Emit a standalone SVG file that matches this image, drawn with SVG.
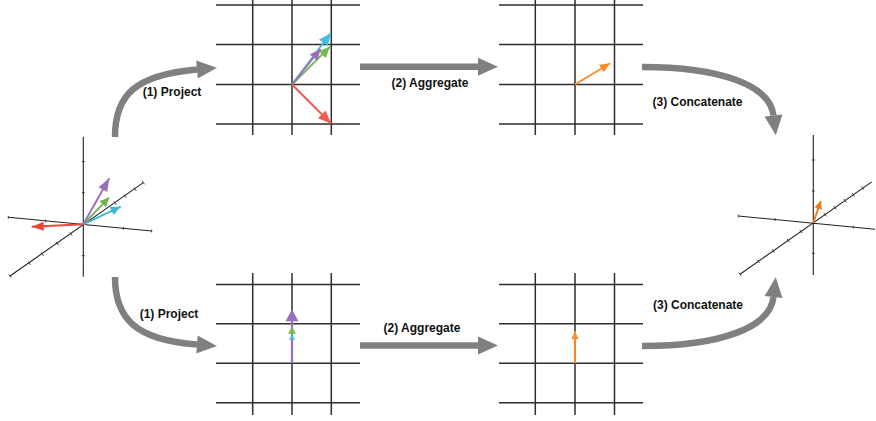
<svg xmlns="http://www.w3.org/2000/svg" width="876" height="421" viewBox="0 0 876 421">
<style>
.grid{stroke:#2e2e2e;stroke-width:1.5;fill:none}
.axis{stroke:#222;stroke-width:1.1;fill:none}
.tick{stroke:#333;stroke-width:0.9;fill:none}
.big{stroke:#808080;stroke-width:6.5;fill:none;marker-end:url(#mGray)}
.lbl{font-family:"Liberation Sans",Arial,Helvetica,sans-serif;font-weight:bold;font-size:12px;fill:#111;text-anchor:middle}
.vec{stroke-width:1.9;fill:none}
</style>
<defs>
<marker id="mGray" markerUnits="userSpaceOnUse" markerWidth="20" markerHeight="18" refX="0" refY="9" orient="auto" overflow="visible"><path d="M0,0 L20,9 L0,18 z" fill="#808080"/></marker>
<marker id="mRed3d" markerUnits="userSpaceOnUse" markerWidth="12" markerHeight="9" refX="12" refY="4.5" orient="auto" overflow="visible"><path d="M0,0 L12,4.5 L0,9 z" fill="#e8493e"/></marker>
<marker id="mPur3d" markerUnits="userSpaceOnUse" markerWidth="13" markerHeight="10" refX="13" refY="5" orient="auto" overflow="visible"><path d="M0,0 L13,5 L0,10 z" fill="#9b6fb8"/></marker>
<marker id="mGrn3d" markerUnits="userSpaceOnUse" markerWidth="9" markerHeight="9" refX="9" refY="4.5" orient="auto" overflow="visible"><path d="M0,0 L9,4.5 L0,9 z" fill="#6fb24e"/></marker>
<marker id="mCyn3d" markerUnits="userSpaceOnUse" markerWidth="10" markerHeight="9" refX="10" refY="4.5" orient="auto" overflow="visible"><path d="M0,0 L10,4.5 L0,9 z" fill="#3db8dc"/></marker>
<marker id="mRedG" markerUnits="userSpaceOnUse" markerWidth="13" markerHeight="11" refX="13" refY="5.5" orient="auto" overflow="visible"><path d="M0,0 L13,5.5 L0,11 z" fill="#f25c50"/></marker>
<marker id="mPurG" markerUnits="userSpaceOnUse" markerWidth="11" markerHeight="10" refX="11" refY="5" orient="auto" overflow="visible"><path d="M0,0 L11,5 L0,10 z" fill="#9b6fb8"/></marker>
<marker id="mGrnG" markerUnits="userSpaceOnUse" markerWidth="11" markerHeight="10" refX="11" refY="5" orient="auto" overflow="visible"><path d="M0,0 L11,5 L0,10 z" fill="#74b856"/></marker>
<marker id="mCynG" markerUnits="userSpaceOnUse" markerWidth="12" markerHeight="11" refX="12" refY="5.5" orient="auto" overflow="visible"><path d="M0,0 L12,5.5 L0,11 z" fill="#45bde0"/></marker>
<marker id="mOrG" markerUnits="userSpaceOnUse" markerWidth="10" markerHeight="9" refX="10" refY="4.5" orient="auto" overflow="visible"><path d="M0,0 L10,4.5 L0,9 z" fill="#ff8a2a"/></marker>
<marker id="mOrG2" markerUnits="userSpaceOnUse" markerWidth="8" markerHeight="7" refX="8" refY="3.5" orient="auto" overflow="visible"><path d="M0,0 L8,3.5 L0,7 z" fill="#ff8a2a"/></marker>
<marker id="mOr3d" markerUnits="userSpaceOnUse" markerWidth="8" markerHeight="8" refX="8" refY="4" orient="auto" overflow="visible"><path d="M0,0 L8,4 L0,8 z" fill="#f07818"/></marker>
</defs>

<g id="input-3d">
<path class="axis" d="M83.3,136.7 V276.7 M8.3,217.3 L151.7,231 M10,276 L143.3,182.6"/>
<path class="tick" d="M81.8,161.7 h3 M81.8,192.7 h3 M81.8,255.7 h3 M45.7,219.6 v2.8 M123.3,227 v2.8 M8.3,215.9 v2.8 M151.7,229.6 v2.8 M28.1,261.5 l2.4,3.4 M41.1,252.4 l2.4,3.4 M56.1,241.9 l2.4,3.4 M69.8,232.3 l2.4,3.4 M113.8,201.4 l2.4,3.4 M123.8,194.4 l2.4,3.4 M133.8,187.4 l2.4,3.4 M142.1,180.9 l2.4,3.4 M8.8,274.3 l2.4,3.4"/>
<line class="vec" x1="83.3" y1="224.3" x2="31.7" y2="226.7" stroke="#e8493e" marker-end="url(#mRed3d)"/>
<line class="vec" x1="83.3" y1="224.3" x2="120.7" y2="206.7" stroke="#3db8dc" marker-end="url(#mCyn3d)"/>
<line class="vec" x1="83.3" y1="224.3" x2="109" y2="197.7" stroke="#6fb24e" marker-end="url(#mGrn3d)"/>
<line class="vec" x1="83.3" y1="224.3" x2="109.3" y2="178.3" stroke="#9b6fb8" marker-end="url(#mPur3d)"/>
</g>

<g id="project-top">
<path class="grid" d="M216,5 H360 M216,44.5 H360 M216,84.5 H360 M216,124 H360 M252.7,0 V135 M292,0 V135 M331.3,0 V135"/>
<line class="vec" x1="292" y1="84.5" x2="330.7" y2="33.3" stroke="#45bde0" marker-end="url(#mCynG)"/>
<line class="vec" x1="292" y1="84.5" x2="330" y2="46.7" stroke="#74b856" marker-end="url(#mGrnG)"/>
<line class="vec" x1="292" y1="84.5" x2="320.5" y2="49" stroke="#9b6fb8" marker-end="url(#mPurG)"/>
<line class="vec" x1="292" y1="84.5" x2="331" y2="123.5" stroke="#f25c50" stroke-width="2.1" marker-end="url(#mRedG)"/>
</g>

<g id="aggregate-top">
<path class="grid" d="M499,5 H643 M499,44.5 H643 M499,84.5 H643 M499,124 H643 M535.3,0 V135 M575,0 V135 M614.5,0 V135"/>
<line class="vec" x1="575" y1="84.5" x2="610" y2="63.3" stroke="#ff8a2a" marker-end="url(#mOrG)"/>
</g>

<g id="project-bottom">
<path class="grid" d="M216,284.5 H360 M216,323.7 H360 M216,363.3 H360 M216,402.7 H360 M252.7,273 V415 M292,273 V415 M331.3,273 V415"/>
<line x1="292" y1="363.3" x2="292" y2="320" stroke="#9b6fb8" stroke-width="2.2"/>
<polygon points="292,309.3 298.5,321.3 285.5,321.3" fill="#9b6fb8"/>
<polygon points="292,326.7 296,333.7 288,333.7" fill="#74b856"/>
<polygon points="292,334.3 295,339.8 289,339.8" fill="#45bde0"/>
</g>

<g id="aggregate-bottom">
<path class="grid" d="M499,284.5 H643 M499,323.7 H643 M499,363.3 H643 M499,402.7 H643 M535.3,273 V415 M575,273 V415 M614.5,273 V415"/>
<line class="vec" x1="575" y1="363.3" x2="575" y2="331" stroke="#ff8a2a" marker-end="url(#mOrG2)"/>
</g>

<g id="output-3d">
<path class="axis" d="M813.3,135 V275 M738.3,216 L875,229.3 M740,274.2 L871.7,181.9"/>
<path class="tick" d="M811.8,160 h3 M811.8,191 h3 M811.8,253.3 h3 M775,218 v2.8 M853.3,225.7 v2.8 M738.3,214.6 v2.8 M757.1,259.7 l2.4,3.4 M772.1,249.2 l2.4,3.4 M787.1,238.7 l2.4,3.4 M799.8,229.8 l2.4,3.4 M823.8,212.9 l2.4,3.4 M833.8,205.9 l2.4,3.4 M843.8,198.9 l2.4,3.4 M852.1,193.1 l2.4,3.4 M861.5,186.5 l2.4,3.4 M738.8,272.5 l2.4,3.4"/>
<line class="vec" x1="813.3" y1="222.7" x2="820.8" y2="201" stroke="#f07818" marker-end="url(#mOr3d)"/>
</g>

<g id="connectors">
<path class="big" d="M115,137 C115,95 135,75 197,69.5"/>
<path class="big" d="M360,66.7 H478"/>
<path class="big" d="M642,67 C720,67 770,85 773.5,115.5"/>
<path class="big" d="M115,277 C115,318 135,340 197,344.5"/>
<path class="big" d="M360,345.5 H478"/>
<path class="big" d="M642,346 C720,346 770,328 773.5,297"/>
<text class="lbl" x="172" y="96">(1) Project</text>
<text class="lbl" x="430" y="87">(2) Aggregate</text>
<text class="lbl" x="697.5" y="106">(3) Concatenate</text>
<text class="lbl" x="169" y="318">(1) Project</text>
<text class="lbl" x="422" y="332">(2) Aggregate</text>
<text class="lbl" x="698" y="309">(3) Concatenate</text>
</g>
</svg>
